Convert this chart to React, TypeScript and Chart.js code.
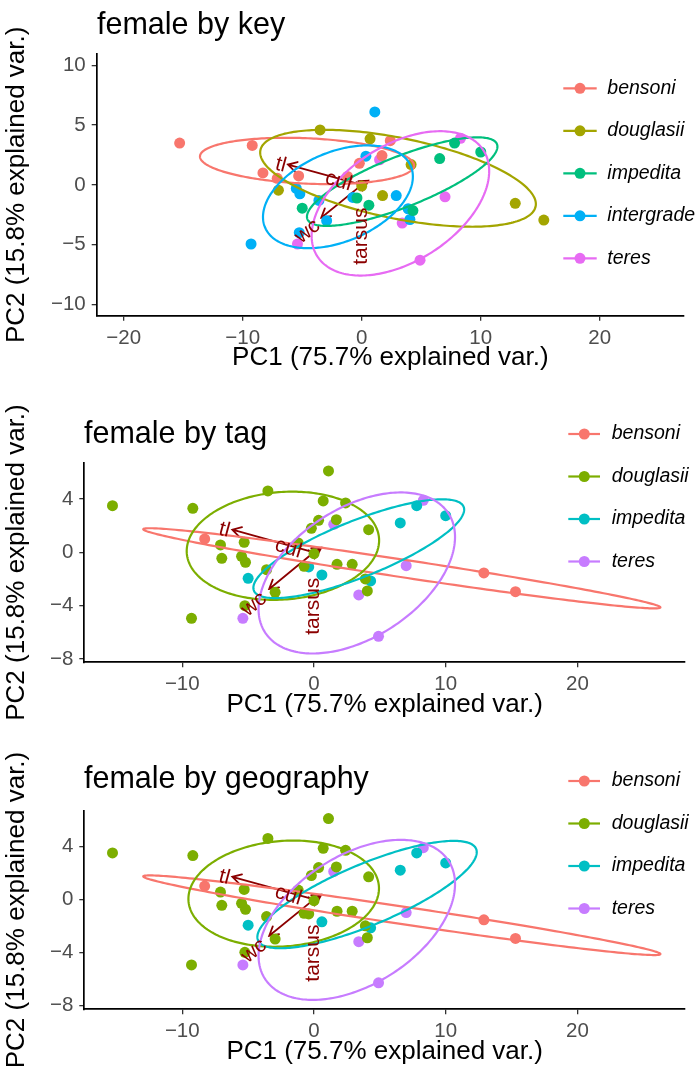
import React, { useEffect, useRef } from "react";
import { Chart, registerables } from "chart.js";

Chart.register(...registerables);
Chart.defaults.font.family = "'Liberation Sans', Arial, Helvetica, sans-serif";

// ---------- data: PCA scores (PC1, PC2) and group memberships ----------
const PC1 = [
  -15.3, -9.2, -9.3, -8.3, -7.1, -7.0, -5.3, -5.5, -5.2, -5.0, -5.25, -5.4, -3.5, -3.6,
  -2.95, 1.1, 0.7, 0.35, -0.2, 1.5, 0.0, -0.75, -0.4, 0.6, 1.75, 2.4, 1.7, 4.15, 2.9,
  3.9, 4.05, 4.3, 3.4, 6.55, 7.8, 8.3, 10.0, 7.0, 12.9, 15.3, 4.9, -1.2,
];
const PC2 = [
  3.5, 3.3, -4.95, 1.0, 0.55, -0.45, 0.75, -0.3, -0.75, -1.95, -4.0, -4.95, 4.6, -1.3,
  -3.0, 6.1, 3.85, 2.4, 1.8, 2.1, -0.1, -1.05, -1.1, -1.7, -0.9, 3.7, 2.45, 1.7, -0.9,
  -2.0, -2.9, -2.15, -3.2, 2.2, 3.5, 3.9, 2.75, -1.0, -1.55, -2.95, -6.3, 0.7,
];
const KEY_GROUP = [
  "bensoni", "bensoni", "intergrade", "bensoni", "bensoni", "douglasii", "bensoni", "intergrade",
  "intergrade", "impedita", "intergrade", "teres", "douglasii", "intergrade", "intergrade",
  "intergrade", "douglasii", "intergrade", "bensoni", "teres", "douglasii", "intergrade",
  "impedita", "impedita", "douglasii", "bensoni", "bensoni", "douglasii", "intergrade",
  "intergrade", "intergrade", "impedita", "teres", "impedita", "impedita", "teres", "impedita",
  "teres", "douglasii", "douglasii", "teres", "bensoni",
];
const TAG_GROUP = [
  "douglasii", "douglasii", "douglasii", "bensoni", "douglasii", "douglasii", "douglasii", "douglasii",
  "douglasii", "impedita", "douglasii", "teres", "douglasii", "douglasii", "douglasii",
  "douglasii", "douglasii", "douglasii", "douglasii", "teres", "douglasii", "douglasii",
  "impedita", "impedita", "douglasii", "douglasii", "douglasii", "douglasii", "douglasii",
  "douglasii", "douglasii", "impedita", "teres", "impedita", "impedita", "teres", "impedita",
  "teres", "bensoni", "bensoni", "teres", "douglasii",
];
const GEO_GROUP = [
  "douglasii", "douglasii", "douglasii", "bensoni", "douglasii", "douglasii", "douglasii", "douglasii",
  "douglasii", "impedita", "douglasii", "teres", "douglasii", "douglasii", "douglasii",
  "douglasii", "douglasii", "douglasii", "douglasii", "teres", "douglasii", "douglasii",
  "douglasii", "impedita", "douglasii", "douglasii", "douglasii", "douglasii", "douglasii",
  "douglasii", "douglasii", "impedita", "teres", "impedita", "impedita", "teres", "impedita",
  "teres", "bensoni", "bensoni", "teres", "douglasii",
];

const KEY_NAMES = ["bensoni", "douglasii", "impedita", "intergrade", "teres"];
const KEY_COLORS = ["#F8766D", "#A3A500", "#00BF7D", "#00B0F6", "#E76BF3"];
const TAG_NAMES = ["bensoni", "douglasii", "impedita", "teres"];
const TAG_COLORS = ["#F8766D", "#7CAE00", "#00BFC4", "#C77CFF"];

// ---------- ellipse parameters (data units): centre, semi-axes, rotation in degrees ----------
const KEY_ELL_CX = [-4.6, 3.05, 3.4, -2.0, 3.25];
const KEY_ELL_CY = [2.0, 0.55, 0.27, -1.0, -1.55];
const KEY_ELL_A = [9.0, 11.8, 8.56, 6.64, 8.27];
const KEY_ELL_B = [1.9, 3.37, 2.12, 3.75, 4.87];
const KEY_ELL_ROT = [-2.5, -11.5, 21.5, 22.6, 32.3];

const TAG_ELL_CX = [6.67, -2.36, 3.4, 3.25];
const TAG_ELL_CY = [-1.2, 0.49, 0.27, -1.55];
const TAG_ELL_A = [19.85, 7.32, 8.56, 8.27];
const TAG_ELL_B = [0.66, 4.03, 2.12, 4.87];
const TAG_ELL_ROT = [-8.5, 4.5, 21.5, 32.3];

const GEO_ELL_CX = [6.67, -2.3, 4.03, 3.25];
const GEO_ELL_CY = [-1.2, 0.43, 0.36, -1.55];
const GEO_ELL_A = [19.85, 7.25, 8.97, 8.27];
const GEO_ELL_B = [0.66, 3.98, 2.31, 4.87];
const GEO_ELL_ROT = [-8.5, 4.5, 22.6, 32.3];

// ---------- variable loadings (arrows) ----------
const VAR_NAMES = ["tl", "cul", "wc", "tarsus"];
const VAR_PC1 = [-6.2, 0.55, -3.4, 0.05];
const VAR_PC2 = [1.7, 0.35, -2.75, -0.45];
const VAR_LABEL_PC1 = [-6.8, -1.95, -4.55, -0.07];
const VAR_LABEL_PC2 = [1.67, 0.3, -3.9, -1.9];
const VAR_LABEL_ANGLE = [15, 17, -39, -90];
const VAR_LABEL_ALIGN = ["center", "center", "center", "right"];

// ---------- axis ticks ----------
const P1_X_TICKS = [-20, -10, 0, 10, 20];
const P1_Y_TICKS = [-10, -5, 0, 5, 10];
const P23_X_TICKS = [-10, 0, 10, 20];
const P23_Y_TICKS = [-8, -4, 0, 4];

const X_TITLE = "PC1 (75.7% explained var.)";
const Y_TITLE = "PC2 (15.8% explained var.)";
const DARK_RED = "#8B0000";
const FONT = "'Liberation Sans', Arial, Helvetica, sans-serif";

type Panel = {
  top: number;
  height: number;
  area: { l: number; t: number; r: number; b: number };
  xMin: number; xMax: number; yMin: number; yMax: number;
  xTicks: number[]; yTicks: number[];
  title: string; titleX: number; titleY: number;
  names: string[]; colors: string[]; groups: string[];
  ecx: number[]; ecy: number[]; ea: number[]; eb: number[]; erot: number[];
  legendY: number[]; legX0: number; legX1: number; legCX: number; legTextX: number;
};

const PANELS: Panel[] = [
  {
    top: 0, height: 390, area: { l: 96.7, t: 54, r: 684, b: 315.7 },
    xMin: -22.27, xMax: 27.08, yMin: -10.95, yMax: 10.95,
    xTicks: P1_X_TICKS, yTicks: P1_Y_TICKS,
    title: "female by key", titleX: 97, titleY: 33.5,
    names: KEY_NAMES, colors: KEY_COLORS, groups: KEY_GROUP,
    ecx: KEY_ELL_CX, ecy: KEY_ELL_CY, ea: KEY_ELL_A, eb: KEY_ELL_B, erot: KEY_ELL_ROT,
    legendY: [88.3, 130.8, 173.3, 215.8, 258.3], legX0: 563.3, legX1: 596.7, legCX: 580, legTextX: 607.3,
  },
  {
    top: 390, height: 345, area: { l: 84.3, t: 72.7, r: 685, b: 272.3 },
    xMin: -17.44, xMax: 28.17, yMin: -8.25, yMax: 6.72,
    xTicks: P23_X_TICKS, yTicks: P23_Y_TICKS,
    title: "female by tag", titleX: 84, titleY: 52.5,
    names: TAG_NAMES, colors: TAG_COLORS, groups: TAG_GROUP,
    ecx: TAG_ELL_CX, ecy: TAG_ELL_CY, ea: TAG_ELL_A, eb: TAG_ELL_B, erot: TAG_ELL_ROT,
    legendY: [44, 86.5, 129, 171.5], legX0: 568.3, legX1: 600, legCX: 584.3, legTextX: 611.7,
  },
  {
    top: 735, height: 342, area: { l: 84.3, t: 75.7, r: 685, b: 274.3 },
    xMin: -17.44, xMax: 28.17, yMin: -8.3, yMax: 6.69,
    xTicks: P23_X_TICKS, yTicks: P23_Y_TICKS,
    title: "female by geography", titleX: 84, titleY: 53,
    names: TAG_NAMES, colors: TAG_COLORS, groups: GEO_GROUP,
    ecx: GEO_ELL_CX, ecy: GEO_ELL_CY, ea: GEO_ELL_A, eb: GEO_ELL_B, erot: GEO_ELL_ROT,
    legendY: [46, 88.5, 131, 173.5], legX0: 568.3, legX1: 600, legCX: 584.3, legTextX: 611.7,
  },
];

const fmt = (v: number) => (v < 0 ? "\u2212" + Math.abs(v) : String(v));
const X_AXIS_H = 64;

function makeOverlay(p: Panel) {
  return {
    id: "overlay",
    beforeDatasetsDraw(chart: any) {
      const { ctx, scales } = chart;
      const xs = scales.x, ys = scales.y;
      const x0 = xs.getPixelForValue(0), y0 = ys.getPixelForValue(0);
      ctx.save();
      ctx.strokeStyle = DARK_RED;
      ctx.lineWidth = 1.8;
      ctx.lineCap = "round";
      for (let i = 0; i < VAR_NAMES.length; i++) {
        const x1 = xs.getPixelForValue(VAR_PC1[i]);
        const y1 = ys.getPixelForValue(VAR_PC2[i]);
        const ang = Math.atan2(y1 - y0, x1 - x0);
        const hl = 10, ha = Math.PI / 6;
        ctx.beginPath();
        ctx.moveTo(x0, y0);
        ctx.lineTo(x1, y1);
        ctx.moveTo(x1 - hl * Math.cos(ang - ha), y1 - hl * Math.sin(ang - ha));
        ctx.lineTo(x1, y1);
        ctx.lineTo(x1 - hl * Math.cos(ang + ha), y1 - hl * Math.sin(ang + ha));
        ctx.stroke();
      }
      ctx.restore();
    },
    afterDatasetsDraw(chart: any) {
      const { ctx, scales, chartArea } = chart;
      const xs = scales.x, ys = scales.y;
      ctx.save();
      ctx.beginPath();
      ctx.rect(chartArea.left, chartArea.top, chartArea.right - chartArea.left, chartArea.bottom - chartArea.top);
      ctx.clip();
      ctx.lineWidth = 2.2;
      for (let g = 0; g < p.names.length; g++) {
        const th = (p.erot[g] * Math.PI) / 180;
        const c = Math.cos(th), s = Math.sin(th);
        ctx.strokeStyle = p.colors[g];
        ctx.beginPath();
        const N = 240;
        for (let k = 0; k <= N; k++) {
          const t = (2 * Math.PI * k) / N;
          const u = p.ea[g] * Math.cos(t), v = p.eb[g] * Math.sin(t);
          const px = xs.getPixelForValue(p.ecx[g] + u * c - v * s);
          const py = ys.getPixelForValue(p.ecy[g] + u * s + v * c);
          if (k === 0) ctx.moveTo(px, py);
          else ctx.lineTo(px, py);
        }
        ctx.closePath();
        ctx.stroke();
      }
      ctx.restore();
      // variable labels
      ctx.save();
      ctx.fillStyle = DARK_RED;
      ctx.font = `21px ${FONT}`;
      ctx.textBaseline = "middle";
      for (let i = 0; i < VAR_NAMES.length; i++) {
        const lx = xs.getPixelForValue(VAR_LABEL_PC1[i]);
        const ly = ys.getPixelForValue(VAR_LABEL_PC2[i]);
        ctx.save();
        ctx.translate(lx, ly);
        ctx.rotate((VAR_LABEL_ANGLE[i] * Math.PI) / 180);
        ctx.textAlign = VAR_LABEL_ALIGN[i];
        ctx.fillText(VAR_NAMES[i], 0, 0);
        ctx.restore();
      }
      ctx.restore();
    },
    afterDraw(chart: any) {
      const { ctx } = chart;
      ctx.save();
      ctx.fillStyle = "#000";
      ctx.font = `30.5px ${FONT}`;
      ctx.textAlign = "left";
      ctx.textBaseline = "alphabetic";
      ctx.fillText(p.title, p.titleX, p.titleY);
      // legend
      for (let g = 0; g < p.names.length; g++) {
        const yy = p.legendY[g];
        ctx.strokeStyle = p.colors[g];
        ctx.lineWidth = 2.2;
        ctx.beginPath();
        ctx.moveTo(p.legX0, yy);
        ctx.lineTo(p.legX1, yy);
        ctx.stroke();
        ctx.fillStyle = p.colors[g];
        ctx.beginPath();
        ctx.arc(p.legCX, yy, 5.5, 0, Math.PI * 2);
        ctx.fill();
        ctx.fillStyle = "#000";
        ctx.font = `italic 19.5px ${FONT}`;
        ctx.textBaseline = "middle";
        ctx.fillText(p.names[g], p.legTextX, yy);
      }
      ctx.restore();
    },
  };
}

function PanelChart({ p }: { p: Panel }) {
  const ref = useRef<HTMLCanvasElement | null>(null);
  useEffect(() => {
    if (!ref.current) return;
    const datasets = p.names.map((name, g) => ({
      label: name,
      data: PC1.map((x, i) => ({ x, y: PC2[i], grp: p.groups[i] }))
        .filter((d) => d.grp === name)
        .map((d) => ({ x: d.x, y: d.y })),
      backgroundColor: p.colors[g],
      borderColor: p.colors[g],
      borderWidth: 0,
      pointRadius: 5.5,
      pointHoverRadius: 5.5,
      showLine: false,
    }));
    const tickFont = { size: 20.5 };
    const chart = new Chart(ref.current, {
      type: "scatter",
      data: { datasets },
      options: {
        animation: false,
        responsive: false,
        events: [],
        layout: {
          padding: {
            left: 0,
            top: p.area.t,
            right: 697 - p.area.r,
            bottom: p.height - p.area.b - X_AXIS_H,
          },
        },
        plugins: { legend: { display: false }, tooltip: { enabled: false }, title: { display: false } },
        scales: {
          x: {
            type: "linear",
            min: p.xMin,
            max: p.xMax,
            afterBuildTicks: (s: any) => {
              s.ticks = p.xTicks.map((v) => ({ value: v }));
            },
            afterFit: (s: any) => {
              s.height = X_AXIS_H;
            },
            ticks: {
              callback: (v: any) => fmt(Number(v)),
              font: tickFont,
              color: "#4D4D4D",
              padding: 5,
              maxRotation: 0,
              minRotation: 0,
              autoSkip: false,
            },
            grid: { display: true, drawOnChartArea: false, drawTicks: true, tickLength: 5, color: "#333333", lineWidth: 1.3 },
            border: { display: true, color: "#000000", width: 1.7 },
            title: { display: true, text: X_TITLE, font: { size: 26 }, color: "#000", padding: { top: 0, bottom: 6 } },
          },
          y: {
            type: "linear",
            min: p.yMin,
            max: p.yMax,
            afterBuildTicks: (s: any) => {
              s.ticks = p.yTicks.map((v) => ({ value: v }));
            },
            afterFit: (s: any) => {
              s.width = p.area.l;
            },
            ticks: {
              callback: (v: any) => fmt(Number(v)),
              font: tickFont,
              color: "#4D4D4D",
              padding: 6,
              autoSkip: false,
            },
            grid: { display: true, drawOnChartArea: false, drawTicks: true, tickLength: 5, color: "#333333", lineWidth: 1.3 },
            border: { display: true, color: "#000000", width: 1.7 },
            title: { display: true, text: Y_TITLE, font: { size: 26 }, color: "#000", padding: { top: 1.5, bottom: 0 } },
          },
        },
      },
      plugins: [makeOverlay(p)],
    } as any);
    return () => chart.destroy();
  }, [p]);
  return (
    <canvas
      ref={ref}
      width={697}
      height={p.height}
      style={{ position: "absolute", left: 0, top: p.top, width: 697, height: p.height }}
    />
  );
}

export default function App() {
  return (
    <div style={{ position: "absolute", left: 0, top: 0, width: 697, height: 1077, background: "#fff" }}>
      {PANELS.map((p, i) => (
        <PanelChart key={i} p={p} />
      ))}
    </div>
  );
}
